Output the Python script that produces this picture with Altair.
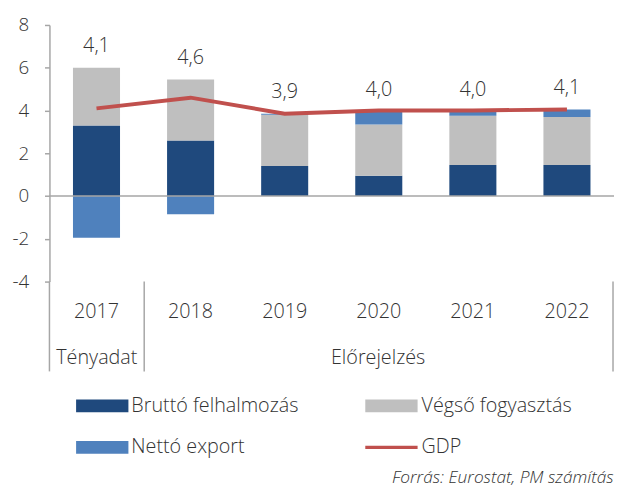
import altair as alt
import pandas as pd

years = ["2017", "2018", "2019", "2020", "2021", "2022"]
brutto = [3.3, 2.6, 1.4, 0.95, 1.45, 1.45]
vegso = [2.7, 2.85, 2.4, 2.4, 2.3, 2.25]
netto = [-1.95, -0.85, 0.05, 0.6, 0.2, 0.35]
gdp = [4.1, 4.6, 3.85, 4.0, 4.0, 4.05]
gdp_labels = ["4,1", "4,6", "3,9", "4,0", "4,0", "4,1"]
series = ["Bruttó felhalmozás", "Végső fogyasztás", "Nettó export"]
colors = ["#1F497D", "#BFBFBF", "#4F81BD"]
gdp_name = "GDP"
gdp_color = "#C0504D"
groups = ["Tényadat", "Előrejelzés"]
source_text = "Forrás: Eurostat, PM számítás"
y_ticks = [-4, -2, 0, 2, 4, 6, 8]

FONT = "Open Sans"
FW = 300
FS = 20
TXT = "#333333"
AX = "#A6A6A6"

rows = []
for i, y in enumerate(years):
    for j, (s, vals) in enumerate(zip(series, [brutto, vegso, netto])):
        rows.append({"year": y, "series": s, "value": vals[i], "ord": j})
df = pd.DataFrame(rows)

gdf = pd.DataFrame({
    "year": years,
    "gdp": gdp,
    "top": [b + v + max(n, 0) for b, v, n in zip(brutto, vegso, netto)],
    "label": gdp_labels,
})
one = pd.DataFrame({"k": [0]})

xs = alt.X("year:N", scale=alt.Scale(domain=years, paddingInner=0.5, paddingOuter=0.25), axis=None)
ys = alt.Scale(domain=[-4, 8], nice=False, zero=False)

bars = alt.Chart(df).mark_bar().encode(
    x=xs,
    y=alt.Y("value:Q", stack="zero", scale=ys, title=None,
            axis=alt.Axis(values=y_ticks, grid=False, domainColor=AX, domainWidth=1.5,
                          tickColor=AX, tickSize=5, tickWidth=1.5, labelPadding=16,
                          labelExpr="'' + datum.value",
                          labelFont=FONT, labelFontSize=19, labelFontWeight=FW, labelColor=TXT)),
    color=alt.Color("series:N", scale=alt.Scale(domain=series, range=colors), legend=None),
    order=alt.Order("ord:Q"),
)

zero = alt.Chart(pd.DataFrame({"z": [0]})).mark_rule(color=AX, strokeWidth=1.5).encode(
    y=alt.Y("z:Q", scale=ys), x=alt.value(0), x2=alt.value(572)
)

line = alt.Chart(gdf).mark_line(color=gdp_color, strokeWidth=4).encode(
    x=xs, y=alt.Y("gdp:Q", scale=ys)
)

labels = alt.Chart(gdf).mark_text(baseline="bottom", dy=-12, font=FONT, fontSize=FS,
                                  fontWeight=FW, color=TXT).encode(
    x=xs, y=alt.Y("top:Q", scale=ys), text="label:N"
)

year_text = alt.Chart(gdf).mark_text(font=FONT, fontSize=FS, fontWeight=FW, color=TXT,
                                     baseline="middle").encode(
    x=xs, y=alt.value(291), text="year:N"
)


def txt(x0, yc, t, align="center", size=FS, style="normal"):
    return alt.Chart(one).mark_text(font=FONT, fontSize=size, fontWeight=FW, fontStyle=style,
                                    color=TXT, align=align, baseline="middle").encode(
        x=alt.value(x0), y=alt.value(yc), text=alt.value(t))


group_text = alt.layer(txt(48, 338, groups[0]), txt(333, 338, groups[1]))

seps = alt.layer(*[
    alt.Chart(one).mark_rule(color=AX, strokeWidth=1.5).encode(
        x=alt.value(xv), y=alt.value(260), y2=alt.value(351))
    for xv in [0, 96, 571]
])


def swatch(x0, yc, color, h):
    return alt.Chart(one).mark_rect(color=color).encode(
        x=alt.value(x0), x2=alt.value(x0 + 53), y=alt.value(yc - h / 2), y2=alt.value(yc + h / 2))


legend = alt.layer(
    swatch(27, 386, colors[0], 13), txt(83, 386, series[0], "left"),
    swatch(320, 386, colors[1], 13), txt(377, 386, series[1], "left"),
    swatch(27, 428, colors[2], 13), txt(83, 428, series[2], "left"),
    swatch(320, 428, gdp_color, 3.5), txt(377, 428, gdp_name, "left"),
)

source = txt(347, 459, source_text, "left", 17.5, "italic")

chart = alt.layer(bars, zero, line, labels, year_text, group_text, seps, legend, source).properties(
    width=572, height=260,
    autosize=alt.AutoSizeParams(type="none"),
    padding={"left": 42, "top": 14, "right": 0, "bottom": 210},
).configure_view(stroke=None)

chart.save("out.html", embed_options={"renderer": "svg", "actions": False})
